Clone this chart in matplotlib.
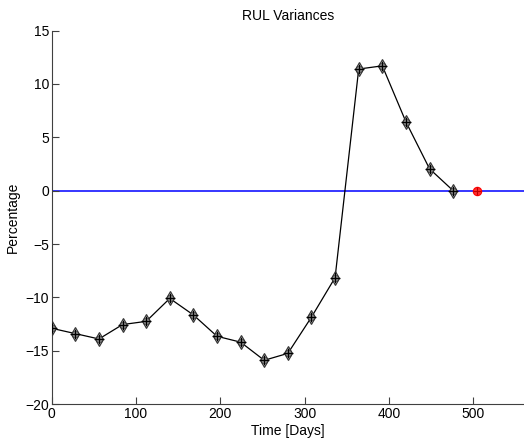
import numpy as np
import matplotlib.pyplot as plt

plt.rcParams['font.family'] = ['Liberation Sans', 'DejaVu Sans']

# RUL variance data (days vs percentage)
days = [0, 28, 56, 84, 112, 140, 168, 196, 224, 252, 280, 308, 336,
        364, 392, 420, 448, 476]
variance = [-12.9, -13.4, -13.9, -12.55, -12.25, -10.1, -11.65, -13.65,
            -14.2, -15.9, -15.25, -11.85, -8.15, 11.4, 11.7, 6.45, 2.05, 0.0]
end_day = [504]
end_val = [0.0]

fig = plt.figure(figsize=(5.24, 4.44), dpi=100)
ax = fig.add_axes([0.0987, 0.090, 0.9013, 0.841])

ax.axhline(0, color='#0000ff', lw=1.1, zorder=1)
ax.plot(days, variance, color='black', lw=0.9, zorder=2)
ax.plot(days, variance, 'o', ms=5, mfc='#8a8a8a', mec='#505050', mew=0.7, zorder=3)
ax.plot(days, variance, 'd', ms=7, mfc='none', mec='#303030', mew=0.8, zorder=3)
ax.plot(days, variance, '+', ms=6.5, color='black', mew=0.9, zorder=4)
ax.plot(end_day, end_val, 'o', ms=6, mfc='#ff3030', mec='#ff0000', mew=0.8, zorder=3)
ax.plot(end_day, end_val, '+', ms=6, color='#c00000', mew=0.8, zorder=4)

ax.set_xlim(0, 560)
ax.set_ylim(-20, 15)
ax.set_xticks([0, 100, 200, 300, 400, 500])
ax.set_yticks([-20, -15, -10, -5, 0, 5, 10, 15])
ax.spines['top'].set_visible(False)
ax.spines['right'].set_visible(False)
for s in ('left', 'bottom'):
    ax.spines[s].set_color('#404040')
ax.tick_params(direction='in', length=5, labelsize=10, width=0.8,
               color='#404040', pad=2)

ax.set_title('RUL Variances', fontsize=10, pad=8)
ax.set_xlabel('Time [Days]', fontsize=10, labelpad=2)
ax.set_ylabel('Percentage', fontsize=10, labelpad=4)

fig.savefig('out.png', dpi=100)
